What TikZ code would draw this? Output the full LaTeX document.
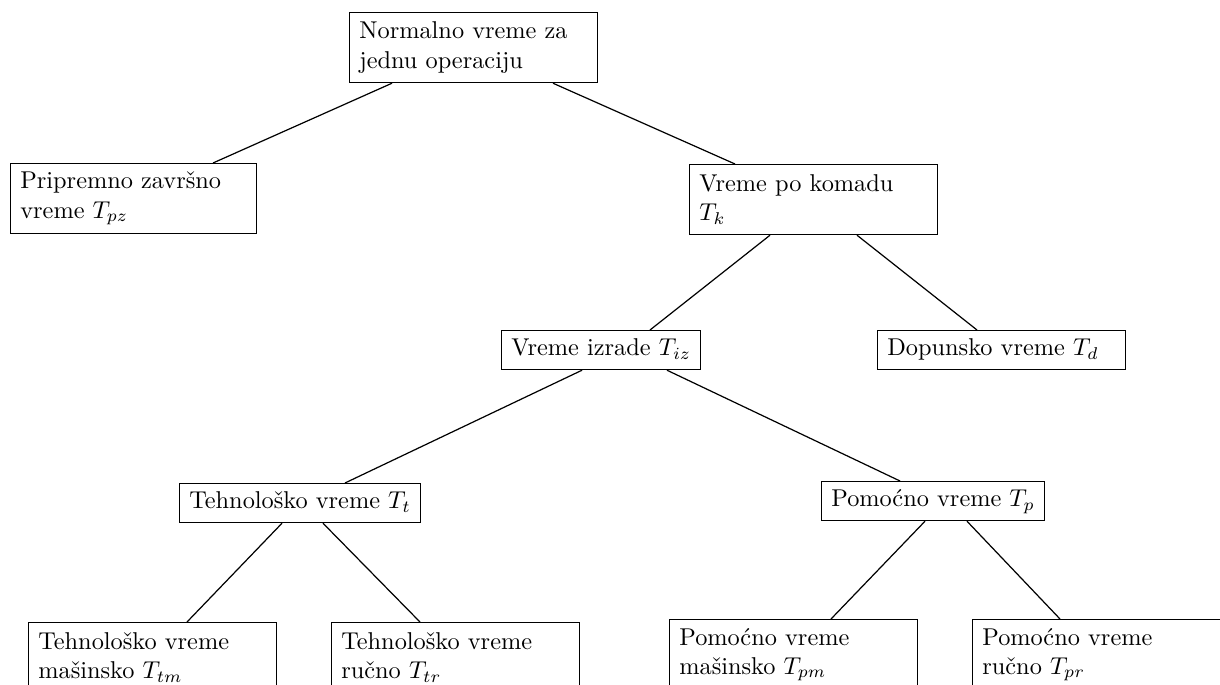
\documentclass[tikz,border=0pt]{standalone}
\usepackage{fontspec}
\usetikzlibrary{calc}
\begin{document}
\begin{tikzpicture}[x=0.411pt,y=-0.411pt,
  box/.style={draw,line width=0.5pt,anchor=north west,inner xsep=4pt,inner ysep=3pt,align=left},
  wide/.style={box,text width=94pt},
  two/.style={wide,minimum height=70*0.411pt},
  one/.style={box,text height=7pt,text depth=2.5pt,minimum height=39*0.411pt},
  conn/.style={line width=0.5pt}]
\useasboundingbox (0,0) rectangle (1220,684);
\node[two] (top) at (349,12) {Normalno vreme za\\jednu operaciju};
\node[two,text width=93pt] (prip) at (10,163) {Pripremno završno\\vreme $T_{pz}$};
\node[two] (vpk) at (689,164) {Vreme po komadu\\$T_k$};
\node[one] (izr) at (501,330) {Vreme izrade $T_{iz}$};
\node[one,text width=94pt] (dop) at (877,330) {Dopunsko vreme $T_d$};
\node[one] (tt) at (179,483) {Tehnološko vreme $T_t$};
\node[one] (tp) at (821,481) {Pomoćno vreme $T_p$};
\node[two] (tm) at (28,622) {Tehnološko vreme\\mašinsko $T_{tm}$};
\node[two] (tr) at (331,622) {Tehnološko vreme\\ručno $T_{tr}$};
\node[two] (pm) at (669,619) {Pomoćno vreme\\mašinsko $T_{pm}$};
\node[two] (pr) at (972,619) {Pomoćno vreme\\ručno $T_{pr}$};
\draw[conn] ($(top.south west)+(43,0)$) -- ($(prip.north west)+(203,0)$);
\draw[conn] ($(top.south west)+(204,0)$) -- ($(vpk.north west)+(46,0)$);
\draw[conn] ($(vpk.south west)+(81,0)$) -- ($(izr.north west)+(149,0)$);
\draw[conn] ($(vpk.south west)+(168,0)$) -- ($(dop.north west)+(100,0)$);
\draw[conn] ($(izr.south west)+(81,0)$) -- ($(tt.north west)+(166,0)$);
\draw[conn] ($(izr.south west)+(166,0)$) -- ($(tp.north west)+(79,0)$);
\draw[conn] ($(tt.south west)+(103,0)$) -- ($(tm.north west)+(159,0)$);
\draw[conn] ($(tt.south west)+(144,0)$) -- ($(tr.north west)+(89,0)$);
\draw[conn] ($(tp.south west)+(104,0)$) -- ($(pm.north west)+(162,0)$);
\draw[conn] ($(tp.south west)+(146,0)$) -- ($(pr.north west)+(88,0)$);
\end{tikzpicture}
\end{document}
